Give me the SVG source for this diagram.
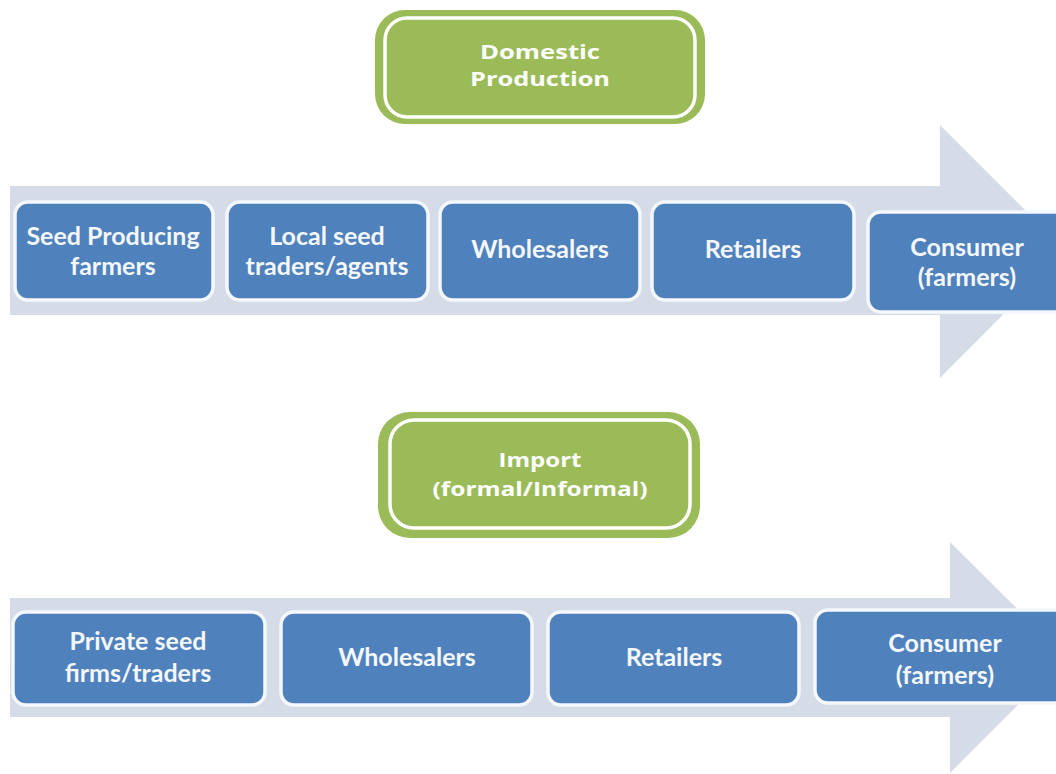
<svg xmlns="http://www.w3.org/2000/svg" width="1056" height="774" viewBox="0 0 1056 774">
<style>
.band{fill:#d5dce7;}
.gbox{fill:#9bbb59;}
.ginner{fill:none;stroke:#ffffff;stroke-width:3.5;}
.gtxt{font-family:"Open Sans","DejaVu Sans",sans-serif;font-weight:bold;font-size:20px;fill:#ffffff;text-anchor:middle;}
.bbox{fill:#4f81bd;stroke:#f4f8fc;stroke-width:3.5;}
.btxt{font-family:Lato,"Liberation Sans",sans-serif;font-weight:bold;font-size:25px;fill:#f4f7fb;text-anchor:middle;}
</style>
<rect width="1056" height="774" fill="#ffffff"/>
<g id="connectors">
<polygon class="band" points="10,186 940,186 940,125 1066,251 940,378 940,315 10,315"/>
<polygon class="band" points="10,598 950,598 950,542 1066,657 950,773 950,717 10,717"/>
</g>
<g id="domestic">
<rect class="gbox" x="375" y="10" width="330" height="114" rx="30"/>
<rect class="ginner" x="385" y="18" width="310" height="99" rx="22"/>
<text class="gtxt" x="540" y="59" textLength="120" lengthAdjust="spacingAndGlyphs">Domestic</text>
<text class="gtxt" x="540" y="86" textLength="140" lengthAdjust="spacingAndGlyphs">Production</text>
</g>
<g id="seed-farmers">
<rect class="bbox" x="15" y="202" width="198" height="98" rx="13"/>
<text class="btxt" x="113" y="245">Seed Producing</text>
<text class="btxt" x="113" y="275">farmers</text>
</g>
<g id="local-traders">
<rect class="bbox" x="227" y="202" width="201" height="98" rx="13"/>
<text class="btxt" x="327" y="245">Local seed</text>
<text class="btxt" x="327" y="275">traders/agents</text>
</g>
<g id="wholesalers-1">
<rect class="bbox" x="440" y="202" width="200" height="98" rx="13"/>
<text class="btxt" x="540" y="258">Wholesalers</text>
</g>
<g id="retailers-1">
<rect class="bbox" x="652" y="202" width="202" height="98" rx="13"/>
<text class="btxt" x="753" y="258">Retailers</text>
</g>
<g id="consumer-1">
<rect class="bbox" x="868" y="212" width="205" height="100" rx="13"/>
<text class="btxt" x="967" y="256">Consumer</text>
<text class="btxt" x="967" y="286">(farmers)</text>
</g>
<g id="import">
<rect class="gbox" x="378" y="412" width="322" height="126" rx="32"/>
<rect class="ginner" x="390" y="420" width="300" height="108" rx="24"/>
<text class="gtxt" x="540" y="467" textLength="83" lengthAdjust="spacingAndGlyphs">Import</text>
<text class="gtxt" x="540" y="496" textLength="215" lengthAdjust="spacingAndGlyphs">(formal/Informal)</text>
</g>
<g id="private-firms">
<rect class="bbox" x="13" y="612" width="252" height="93" rx="13"/>
<text class="btxt" x="138" y="650">Private seed</text>
<text class="btxt" x="138" y="682">firms/traders</text>
</g>
<g id="wholesalers-2">
<rect class="bbox" x="281" y="612" width="251" height="93" rx="13"/>
<text class="btxt" x="407" y="666">Wholesalers</text>
</g>
<g id="retailers-2">
<rect class="bbox" x="548" y="612" width="251" height="93" rx="13"/>
<text class="btxt" x="674" y="666">Retailers</text>
</g>
<g id="consumer-2">
<rect class="bbox" x="815" y="610" width="260" height="93" rx="13"/>
<text class="btxt" x="945" y="652">Consumer</text>
<text class="btxt" x="945" y="684">(farmers)</text>
</g>
</svg>
